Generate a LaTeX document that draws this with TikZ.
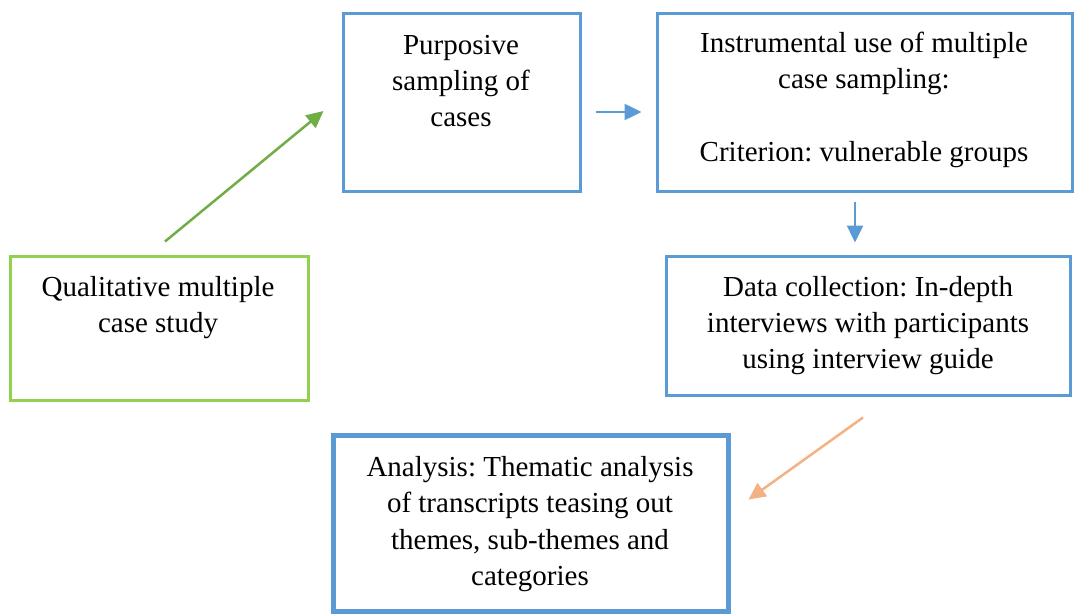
\documentclass[tikz,border=0pt]{standalone}
\usepackage{fontspec}
\setmainfont{Liberation Serif}
\usetikzlibrary{arrows.meta,calc}
\definecolor{boxblue}{RGB}{91,155,213}
\definecolor{boxgreen}{RGB}{146,208,80}
\definecolor{arrgreen}{RGB}{112,173,71}
\definecolor{arrorange}{RGB}{244,177,131}
\frenchspacing
\tikzset{
  stage/.style={draw=boxblue, line width=3pt, rectangle, inner sep=0pt},
  caption/.style={align=center, font=\fontsize{29}{36.3}\selectfont, inner sep=0pt},
  flow/.style={line width=2.5pt, -{Triangle[length=17pt,width=16pt]}},
}
\begin{document}
\begin{tikzpicture}[x=1pt,y=-1pt]
\useasboundingbox (0,0) rectangle (1078,615);
% boxes
\node[stage, draw=boxgreen, minimum width=298pt, minimum height=144pt] (qual) at (159,328) {};
\node[stage, minimum width=237pt, minimum height=177pt] (purp) at (461.5,102.5) {};
\node[stage, minimum width=415pt, minimum height=177pt] (instr) at (864.5,102.5) {};
\node[stage, minimum width=404pt, minimum height=139pt] (data) at (868,325.5) {};
\node[stage, line width=5pt, minimum width=395pt, minimum height=176pt] (anal) at (530.5,523.5) {};
% texts
\node[caption] (qualtxt) at (158,307.5) {Qualitative multiple\\case study};
\node[caption] (purptxt) at (461,81) {Purposive\\sampling of\\cases};
\node[caption] (instrtxt) at (864,99.5) {Instrumental use of multiple\\case sampling:\\[36.3pt]Criterion: vulnerable groups};
\node[caption] (datatxt) at (868,325.5) {Data collection: In-depth\\interviews with participants\\using interview guide};
\node[caption] (analtxt) at (530,524) {Analysis: Thematic analysis\\of transcripts teasing out\\themes, sub-themes and\\categories};
% arrows
\coordinate (g1) at ($(qual.north)+(6,-13)$);
\coordinate (g2) at ($(purp.west)+(-18,8.5)$);
\draw[flow, arrgreen] (g1) -- (g2);
\coordinate (b1) at ($(purp.east)+(14,9.5)$);
\coordinate (b2) at ($(instr.west)+(-14,9.5)$);
\draw[flow, boxblue] (b1) -- (b2);
\coordinate (d1) at ($(instr.south)+(-9.5,9)$);
\coordinate (d2) at ($(data.north)+(-13,-12)$);
\draw[flow, boxblue] (d1) -- (d2);
\coordinate (o1) at ($(data.south)+(-5,21)$);
\coordinate (o2) at ($(anal.east)+(18,-24)$);
\draw[flow, arrorange] (o1) -- (o2);
\end{tikzpicture}
\end{document}
